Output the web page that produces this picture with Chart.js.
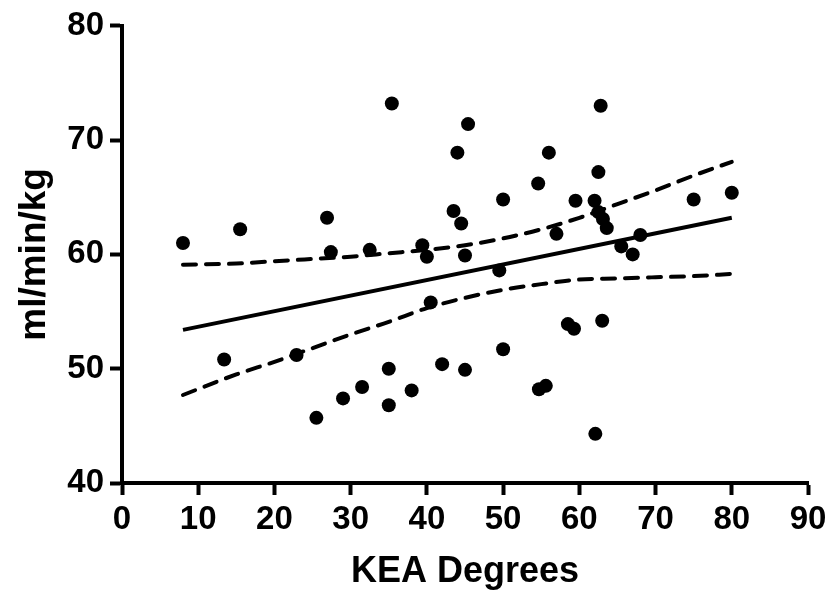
<!DOCTYPE html>
<html>
<head>
<meta charset="utf-8">
<script src="https://cdn.jsdelivr.net/npm/chart.js@4"></script>
<style>
  html, body { margin: 0; padding: 0; background: #fff; }
  #wrap { width: 834px; height: 598px; }
</style>
</head>
<body>
<div id="wrap"><canvas id="chart"></canvas></div>
<script>
// measured points: KEA degrees vs ml/min/kg
const keaDegrees = [8.0, 13.4, 15.5, 22.9, 25.5, 26.9, 27.4, 29.0, 31.5, 32.5, 35.0, 35.0,
    35.4, 38.0, 39.4, 40.0, 40.5, 42.0, 43.5, 44.0, 44.5, 45.0, 45.0, 45.4, 49.5, 50.0,
    50.0, 54.6, 54.7, 55.6, 56.0, 57.0, 58.5, 59.3, 59.5, 62.0, 62.1, 62.5, 62.5, 62.8,
    63.0, 63.1, 63.6, 65.5, 67.0, 68.0, 75.0, 80.0]
const mlMinKg = [61.0, 50.8, 62.2, 51.2, 45.7, 63.2, 60.2, 47.4, 48.4, 60.4, 50.0, 46.8,
    73.2, 48.1, 60.8, 59.8, 55.8, 50.4, 63.8, 68.9, 62.7, 59.9, 49.9, 71.4, 58.6, 64.8,
    51.7, 66.2, 48.2, 48.5, 68.9, 61.8, 53.9, 53.5, 64.7, 64.7, 44.3, 67.2, 63.7, 73.0,
    54.2, 63.1, 62.3, 60.7, 60.0, 61.7, 64.8, 65.4]

// fit line and 95% band
const fitX = [8, 80]
const fitY = [53.4, 63.2]
const bandX = [8, 15, 20, 25, 30, 35, 40, 45, 50, 55, 60, 65, 70, 75, 80]
const upperY = [59.1, 59.2, 59.4, 59.6, 59.8, 60.1, 60.4, 60.8, 61.4, 62.2, 63.2, 64.4, 65.6, 66.9, 68.1]
const lowerY = [47.7, 49.5, 50.6, 51.8, 53.0, 54.1, 55.3, 56.2, 56.9, 57.4, 57.8, 57.9, 58.0, 58.1, 58.3]

const xTicks = [0, 10, 20, 30, 40, 50, 60, 70, 80, 90]
const yTicks = [40, 50, 60, 70, 80]

const FONT = "'Liberation Sans', Arial, Helvetica, sans-serif"

function pairs(xs, ys) {
    return xs.map((x, i) => ({ x: x, y: ys[i] }))
}

const dashed = {
    showLine: true,
    pointRadius: 0,
    borderColor: '#000',
    borderWidth: 4,
    borderDash: [13, 10],
    borderCapStyle: 'round',
    tension: 0.4,
    cubicInterpolationMode: 'monotone',
    fill: false
}

new Chart(document.getElementById('chart'), {
    type: 'scatter',
    data: {
        datasets: [
            {
                label: 'data',
                data: pairs(keaDegrees, mlMinKg),
                pointRadius: 7,
                pointBackgroundColor: '#000',
                pointBorderWidth: 0,
                order: 1
            },
            {
                label: 'fit',
                data: pairs(fitX, fitY),
                showLine: true,
                pointRadius: 0,
                borderColor: '#000',
                borderWidth: 4,
                order: 0
            },
            Object.assign({ label: 'upper', data: pairs(bandX, upperY), order: 0 }, dashed),
            Object.assign({ label: 'lower', data: pairs(bandX, lowerY), order: 0 }, dashed)
        ]
    },
    options: {
        responsive: true,
        maintainAspectRatio: false,
        animation: false,
        layout: { padding: { left: 0, right: 26, top: 24, bottom: 0 } },
        plugins: {
            legend: { display: false },
            tooltip: { enabled: false }
        },
        scales: {
            x: {
                type: 'linear',
                min: 0,
                max: 90,
                afterBuildTicks: (s) => { s.ticks = xTicks.map(v => ({ value: v })) },
                afterFit: (s) => { s.height = 115 },
                border: { display: true, color: '#000', width: 4 },
                grid: { drawOnChartArea: false, drawTicks: true, tickLength: 12, tickWidth: 4, tickColor: '#000' },
                ticks: { color: '#000', padding: 5, maxRotation: 0, font: { family: FONT, size: 33, weight: 'bold' } },
                title: {
                    display: true,
                    text: 'KEA Degrees',
                    color: '#000',
                    padding: { top: 0, bottom: 4 },
                    font: { family: FONT, size: 36, weight: 'bold' }
                }
            },
            y: {
                type: 'linear',
                min: 40,
                max: 80,
                afterBuildTicks: (s) => { s.ticks = yTicks.map(v => ({ value: v })) },
                afterFit: (s) => { s.width = 122 },
                border: { display: true, color: '#000', width: 4 },
                grid: { drawOnChartArea: false, drawTicks: true, tickLength: 12, tickWidth: 4, tickColor: '#000' },
                ticks: { color: '#000', padding: 6, font: { family: FONT, size: 33, weight: 'bold' } },
                title: {
                    display: true,
                    text: 'ml/min/kg',
                    color: '#000',
                    padding: { top: 13, bottom: 0 },
                    font: { family: FONT, size: 37, weight: 'bold' }
                }
            }
        }
    }
})
</script>
</body>
</html>
